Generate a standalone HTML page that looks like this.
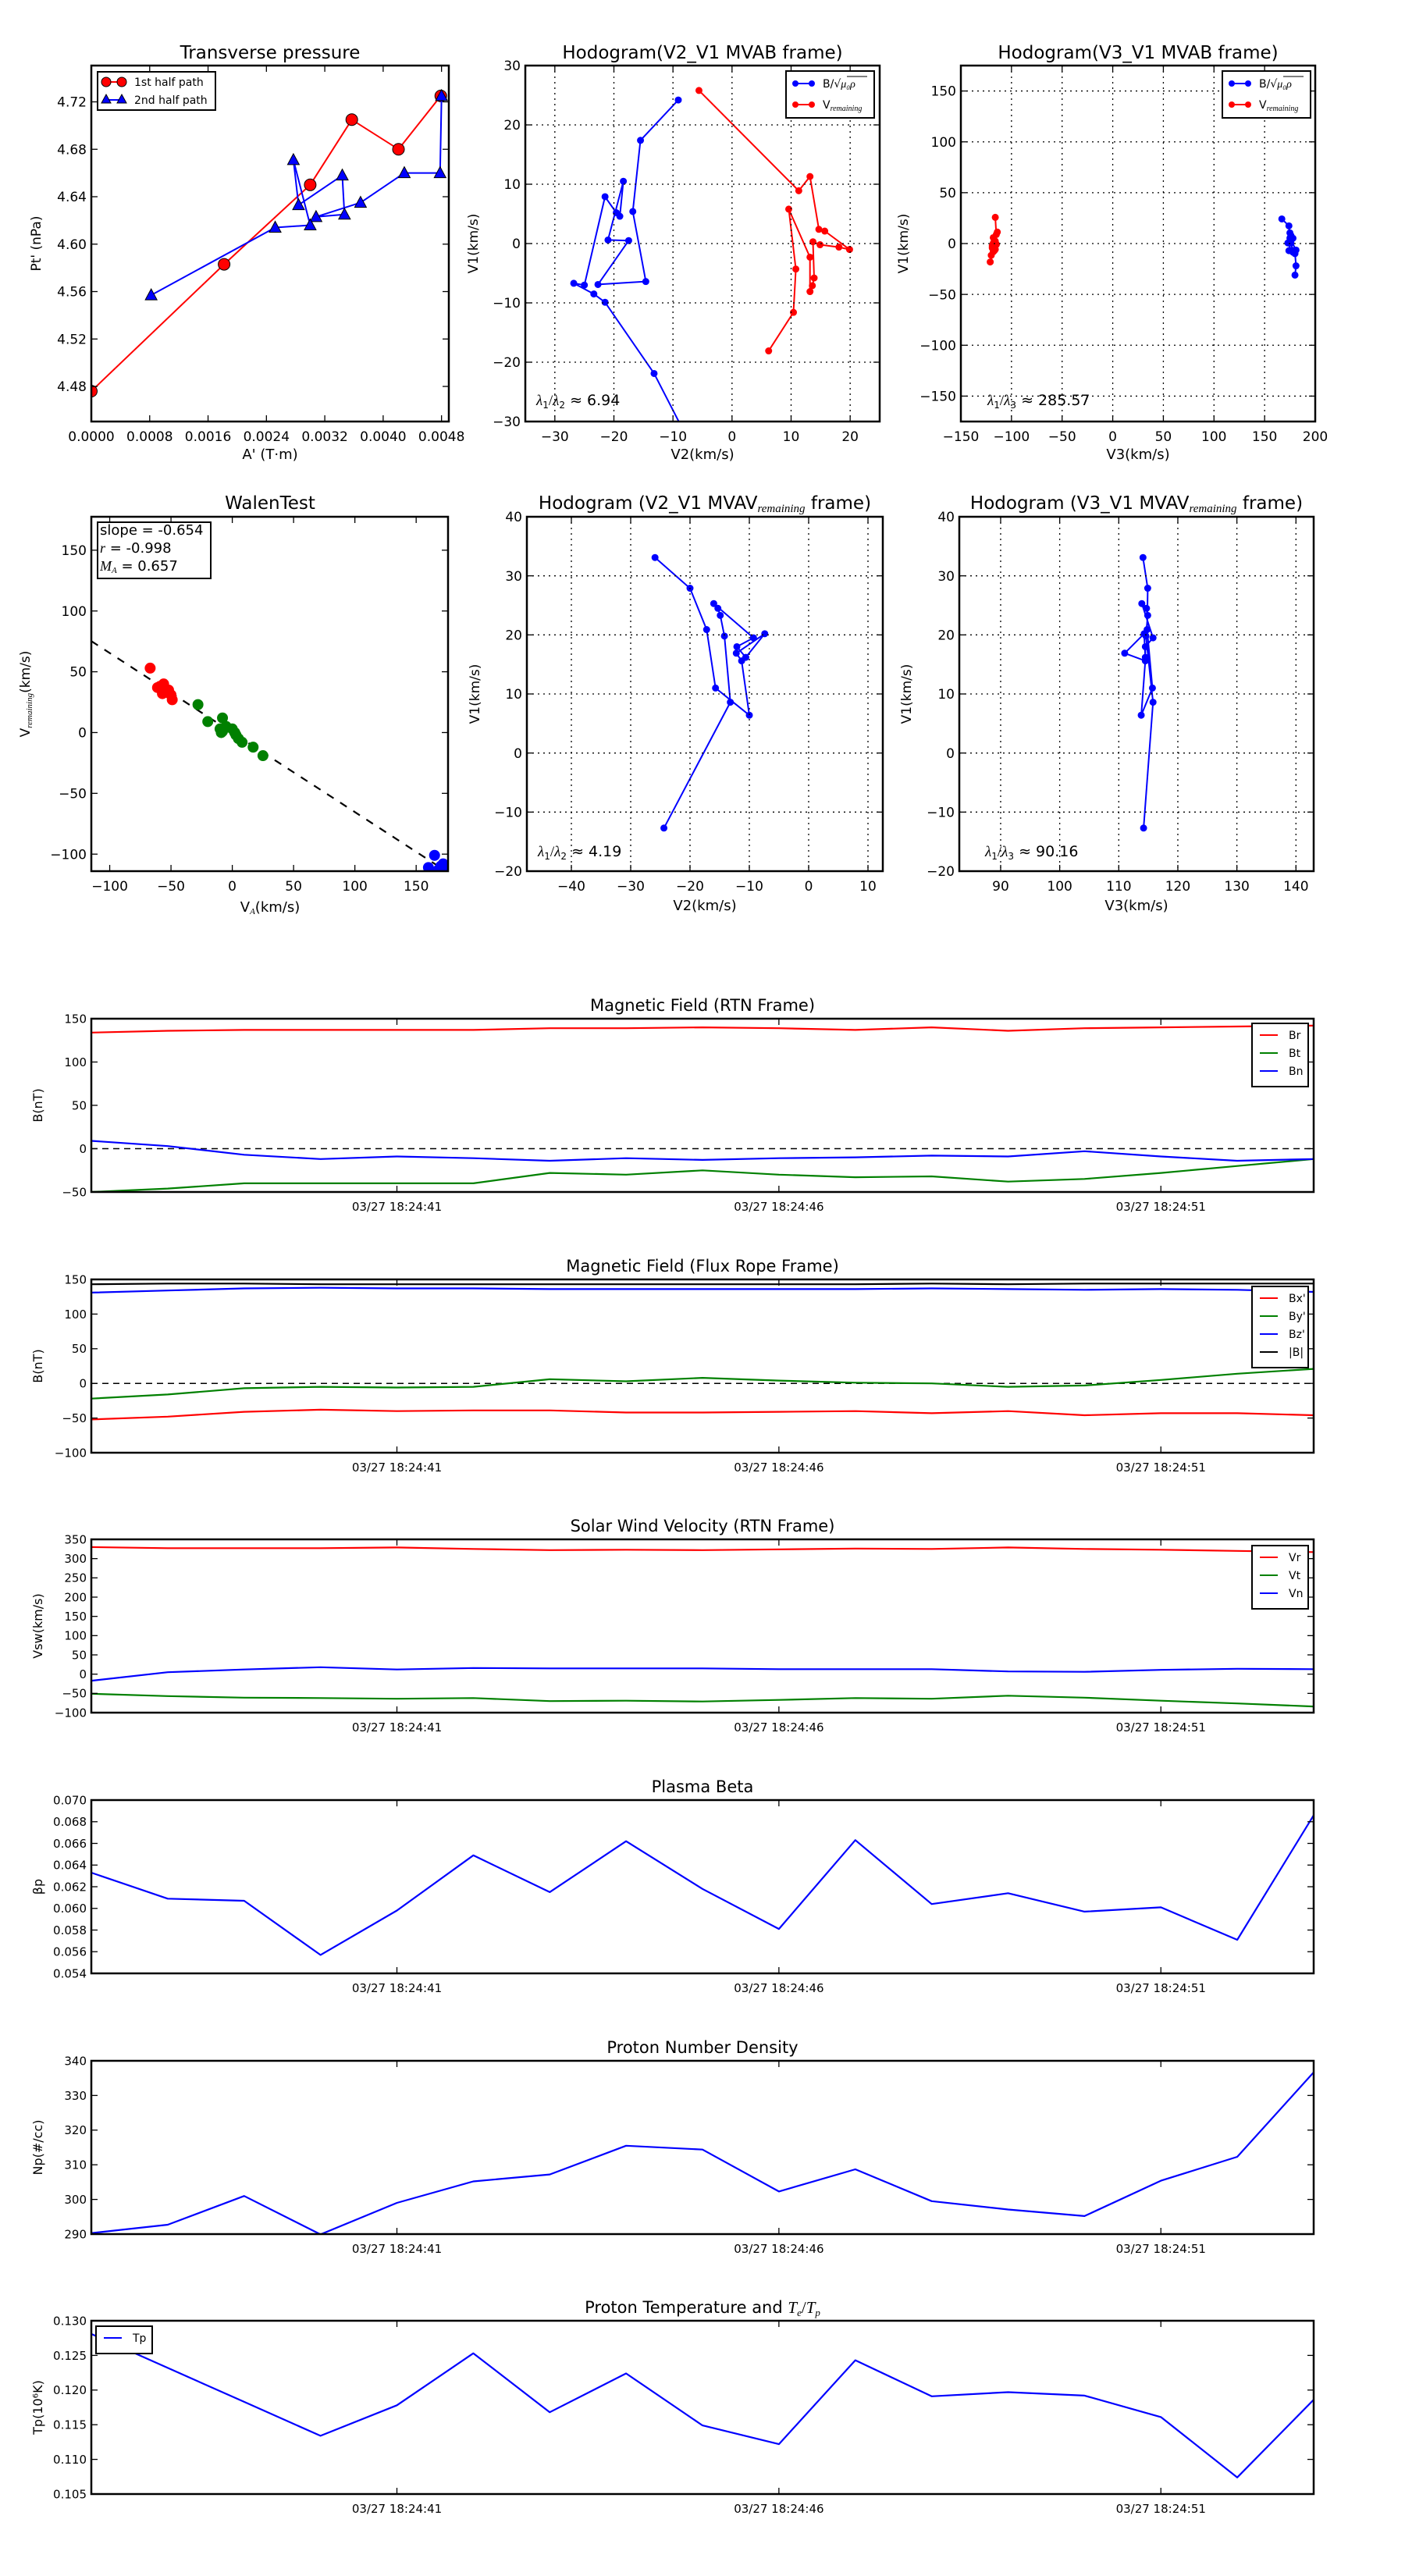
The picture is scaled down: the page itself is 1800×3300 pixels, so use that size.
<!DOCTYPE html>
<html><head><meta charset="utf-8"><title>Flux rope analysis</title>
<style>
html,body{margin:0;padding:0;background:#fff;}
svg{display:block;font-family:"DejaVu Sans","Liberation Sans",sans-serif;}
</style></head>
<body>
<svg id="c" width="1800" height="3300" viewBox="0 0 1800 3300" xmlns="http://www.w3.org/2000/svg">
<rect x="0" y="0" width="1800" height="3300" fill="#fff"/>
</svg>
<script>
// ---------- data ----------
const ptRedA = [0, 0.00182, 0.00300, 0.00357, 0.00421, 0.00479];
const ptRedP = [4.476, 4.583, 4.650, 4.705, 4.680, 4.725];
const ptBlueA = [0.00480, 0.00478, 0.00429, 0.00369, 0.00308, 0.00347, 0.00344, 0.00284, 0.00277, 0.00300, 0.00252, 0.00082];
const ptBlueP = [4.725, 4.660, 4.660, 4.635, 4.623, 4.625, 4.658, 4.633, 4.671, 4.616, 4.614, 4.557];

const hbV2 = [-9.1,-15.5,-16.8,-14.6,-22.7,-17.5,-21,-18.4,-19,-19.6,-21.5,-25,-26.8,-23.4,-21.5,-13.2,-8.5];
const hbV1 = [24.2,17.4,5.4,-6.4,-6.9,0.5,0.6,10.5,4.6,5.2,7.9,-7,-6.7,-8.5,-9.9,-21.9,-31];
const hbV3 = [167,174,175,181,178,176,173,175,177,178,176,174,176,178,180,181,180];
const hrV2 = [-5.6,11.3,13.2,14.7,15.7,19.9,18.1,14.9,13.7,13.9,13.6,13.2,13.2,9.6,10.8,10.4,6.2];
const hrV1 = [25.8,8.9,11.3,2.4,2.1,-1,-0.6,-0.2,0.3,-5.8,-7.1,-8.1,-2.3,5.8,-4.3,-11.6,-18.1];
const hrV3 = [-116,-115,-114,-116,-117,-115,-115,-117,-118,-116,-117,-118,-119,-118,-119,-120,-121];

const walRedX = [-67,-61,-59,-56,-55,-52,-50,-49,-57];
const walRedY = [53,37,38,40,33,35,31,27,32];
const walGreenX = [-28,-20,-8,-10,-9,-5,0,3,5,8,17,25,-8,2];
const walGreenY = [23,9,12,3,0,5,3,-2,-5,-8,-12,-19,1,0];
const walBlueX = [165,160,170,172,174,168];
const walBlueY = [-101,-111,-110,-108,-110,-113];
const walSlope = -0.654;

const mvV1 = [33.1,27.9,20.9,11.0,6.4,15.6,16.9,20.2,16.2,18.0,19.5,25.3,24.5,23.3,19.8,8.6,-12.7];
const mvV2 = [-25.9,-20,-17.2,-15.7,-10,-11.3,-12.2,-7.4,-10.6,-12.1,-9.3,-16,-15.3,-14.9,-14.2,-13.2,-24.4];
const mvV3 = [114.1,114.9,114.8,115.7,113.8,114.5,111,114.3,114.5,114.5,115.8,113.9,114.7,114.9,114.6,115.8,114.2];

const timeTicks = ["03/27 18:24:41","03/27 18:24:46","03/27 18:24:51"];
const timeTickIdx = [4, 9, 14];
const Br = [134,136,137,137,137,137,139,139,140,139,137,140,136,139,140,141,142];
const Bt = [-50,-46,-40,-40,-40,-40,-28,-30,-25,-30,-33,-32,-38,-35,-28,-20,-12];
const Bn = [9,3,-7,-12,-9,-11,-14,-11,-13,-11,-10,-8,-9,-3,-9,-14,-12];
const Bx = [-52,-48,-41,-38,-40,-39,-39,-42,-42,-41,-40,-43,-40,-46,-43,-43,-46];
const By = [-22,-16,-7,-5,-6,-5,6,3,8,4,1,0,-5,-3,5,14,21];
const Bz = [131,134,137,138,137,137,136,136,136,136,136,137,136,135,136,135,132];
const Bmag = [143,144,144,143,143,143,143,143,143,143,143,144,143,144,144,144,144];
const Vr = [330,327,327,327,329,325,322,323,322,324,326,325,329,325,323,320,317];
const Vt = [-51,-57,-61,-62,-64,-62,-70,-69,-71,-67,-62,-64,-56,-61,-69,-76,-84];
const Vn = [-17,5,12,18,12,16,15,15,15,13,13,13,7,6,11,14,13];
const beta = [0.0633,0.0609,0.0607,0.0557,0.0598,0.0649,0.0615,0.0662,0.0618,0.0581,0.0663,0.0604,0.0614,0.0597,0.0601,0.0571,0.0686];
const Np = [290.3,292.7,301,289.9,299,305.2,307.2,315.5,314.4,302.3,308.7,299.5,297.1,295.2,305.4,312.3,336.7];
const Tp = [0.1281,0.1232,0.1183,0.1134,0.1178,0.1253,0.1168,0.1224,0.1149,0.1122,0.1243,0.1191,0.1197,0.1192,0.1161,0.1074,0.1186];

// ---------- helpers ----------
const NS = "http://www.w3.org/2000/svg";
const svg = document.getElementById('c');
let clipN = 0;
function mk(tag, attrs, parent){
  const e = document.createElementNS(NS, tag);
  for (const k in attrs) e.setAttribute(k, attrs[k]);
  (parent || svg).appendChild(e);
  return e;
}
function txt(x, y, s, size, anchor, parent, extra){
  const t = mk('text', Object.assign({x:x, y:y, 'font-size':size, 'text-anchor':anchor||'middle', fill:'#000'}, extra||{}), parent);
  t.textContent = s;
  return t;
}
function axes(name, x0, y0, w, h, xmin, xmax, ymin, ymax){
  const g = mk('g', {});
  
  
  const sx = v => x0 + (v - xmin) / (xmax - xmin) * w;
  const sy = v => y0 + h - (v - ymin) / (ymax - ymin) * h;
  const id = 'clip' + (clipN++);
  const cp = mk('clipPath', {id:id}, g);
  mk('rect', {x:x0, y:y0, width:w, height:h}, cp);
  const plot = mk('g', {'clip-path':'url(#' + id + ')'}, g);
  return {g, plot, sx, sy, x0, y0, w, h};
}
function frame(a){
  const f = mk('rect', {x:a.x0, y:a.y0, width:a.w, height:a.h, fill:'none', stroke:'#000', 'stroke-width':2.5}, a.g);
  
  
}
function xticks(a, vals, labels, size, grid){
  vals.forEach((v, i) => {
    const x = a.sx(v);
    if (grid) mk('line', {x1:x, x2:x, y1:a.y0, y2:a.y0 + a.h, stroke:'#000', 'stroke-width':1.3, 'stroke-dasharray':'2,5'}, a.g);
    mk('line', {x1:x, x2:x, y1:a.y0 + a.h, y2:a.y0 + a.h - 8, stroke:'#000', 'stroke-width':1.3}, a.g);
    mk('line', {x1:x, x2:x, y1:a.y0, y2:a.y0 + 8, stroke:'#000', 'stroke-width':1.3}, a.g);
    const t = txt(x, a.y0 + a.h + size + 8, labels[i], size, 'middle', a.g);
    
    
  });
}
function yticks(a, vals, labels, size, grid){
  vals.forEach((v, i) => {
    const y = a.sy(v);
    if (grid) mk('line', {x1:a.x0, x2:a.x0 + a.w, y1:y, y2:y, stroke:'#000', 'stroke-width':1.3, 'stroke-dasharray':'2,5'}, a.g);
    mk('line', {x1:a.x0, x2:a.x0 + 8, y1:y, y2:y, stroke:'#000', 'stroke-width':1.3}, a.g);
    mk('line', {x1:a.x0 + a.w, x2:a.x0 + a.w - 8, y1:y, y2:y, stroke:'#000', 'stroke-width':1.3}, a.g);
    const t = txt(a.x0 - 6, y + size * 0.36, labels[i], size, 'end', a.g);
    
    
  });
}
function range(a, b, s){ const r = []; for (let v = a; v <= b + s * 1e-6; v += s) r.push(Math.round(v / s) * s); return r; }
function polyline(a, xs, ys, color, width){
  const pts = xs.map((x, i) => a.sx(x).toFixed(1) + ',' + a.sy(ys[i]).toFixed(1)).join(' ');
  return mk('polyline', {points:pts, fill:'none', stroke:color, 'stroke-width':width || 2, 'stroke-linejoin':'round'}, a.plot);
}
function dots(a, xs, ys, color, r, stroke){
  const g = mk('g', {}, a.plot);
  xs.forEach((x, i) => {
    const c = mk('circle', {cx:a.sx(x), cy:a.sy(ys[i]), r:r, fill:color, stroke:stroke || color, 'stroke-width':1}, g);
    
    
  });
  return g;
}
function title(x, y, s, size){
  const t = txt(x, y, s, size || 23, 'middle');
  
  
  return t;
}
function ylabel(x, y, s, size){
  const t = txt(x, y, s, size || 17, 'middle', svg, {transform:'rotate(-90 ' + x + ' ' + y + ')'});
  
  
  return t;
}
function xlabel(x, y, s, size){
  const t = txt(x, y, s, size || 18, 'middle');
  
  
  return t;
}

// ---------- 1. Transverse pressure ----------
{
  const a = axes('transverse-pressure-chart', 117, 84, 458, 456, 0, 0.0049, 4.4504, 4.7506);
  title(346, 75, 'Transverse pressure');
  xticks(a, range(0, 0.0048, 0.0008), range(0, 0.0048, 0.0008).map(v => v.toFixed(4)), 17);
  yticks(a, range(4.48, 4.72, 0.04), range(4.48, 4.72, 0.04).map(v => v.toFixed(2)), 17);
  const rl = polyline(a, ptRedA, ptRedP, '#f00', 2);
  
  
  dots(a, ptRedA, ptRedP, '#f00', 7.5, '#000');
  const bl = polyline(a, ptBlueA, ptBlueP, '#00f', 2);
  
  
  ptBlueA.forEach((x, i) => {
    const cx = a.sx(x), cy = a.sy(ptBlueP[i]);
    const tri = mk('polygon', {points:(cx) + ',' + (cy - 8) + ' ' + (cx - 7.5) + ',' + (cy + 6) + ' ' + (cx + 7.5) + ',' + (cy + 6), fill:'#00f', stroke:'#000', 'stroke-width':1}, a.plot);
    
    
  });
  frame(a);
  const lg = mk('g', {});
  
  
  mk('rect', {x:125, y:92, width:151, height:49, fill:'#fff', stroke:'#000', 'stroke-width':2}, lg);
  mk('line', {x1:136, x2:156, y1:105, y2:105, stroke:'#f00', 'stroke-width':2}, lg);
  mk('circle', {cx:136, cy:105, r:6, fill:'#f00', stroke:'#000'}, lg);
  mk('circle', {cx:156, cy:105, r:6, fill:'#f00', stroke:'#000'}, lg);
  txt(172, 110, '1st half path', 14, 'start', lg);
  mk('line', {x1:136, x2:156, y1:128, y2:128, stroke:'#00f', 'stroke-width':2}, lg);
  mk('polygon', {points:'136,121 130,132 142,132', fill:'#00f', stroke:'#000'}, lg);
  mk('polygon', {points:'156,121 150,132 162,132', fill:'#00f', stroke:'#000'}, lg);
  txt(172, 133, '2nd half path', 14, 'start', lg);
  ylabel(52, 312, "Pt' (nPa)");
  xlabel(346, 588, "A' (T\u00b7m)");
}

// hodogram legend helper
function hodoLegend(x, y){
  const lg = mk('g', {});
  
  
  mk('rect', {x:x, y:y, width:113, height:60, fill:'#fff', stroke:'#000', 'stroke-width':2}, lg);
  mk('line', {x1:x + 12, x2:x + 33, y1:y + 16, y2:y + 16, stroke:'#00f', 'stroke-width':2}, lg);
  mk('circle', {cx:x + 12, cy:y + 16, r:4, fill:'#00f'}, lg);
  mk('circle', {cx:x + 33, cy:y + 16, r:4, fill:'#00f'}, lg);
  const t1 = txt(x + 47, y + 21, 'B/\u221a', 14, 'start', lg);
  const s1 = mk('tspan', {'font-style':'italic', 'font-family':'Liberation Serif, serif'}, t1);
  s1.textContent = '\u03bc\u2080\u03c1';
  mk('line', {x1:x + 78, x2:x + 104, y1:y + 7, y2:y + 7, stroke:'#000', 'stroke-width':1}, lg);
  mk('line', {x1:x + 12, x2:x + 33, y1:y + 43, y2:y + 43, stroke:'#f00', 'stroke-width':2}, lg);
  mk('circle', {cx:x + 12, cy:y + 43, r:4, fill:'#f00'}, lg);
  mk('circle', {cx:x + 33, cy:y + 43, r:4, fill:'#f00'}, lg);
  const t2 = txt(x + 47, y + 48, 'V', 14, 'start', lg);
  const s2 = mk('tspan', {'font-style':'italic', 'font-size':10, dy:3, 'font-family':'Liberation Serif, serif'}, t2);
  s2.textContent = 'remaining';
}
function lambdaText(x, y, a, b, val){
  const t = txt(x, y, '', 19, 'start');
  
  
  const p1 = mk('tspan', {'font-style':'italic', 'font-family':'Liberation Serif, serif'}, t); p1.textContent = '\u03bb';
  const p2 = mk('tspan', {'font-size':12, dy:4}, t); p2.textContent = a;
  const p3 = mk('tspan', {dy:-4, 'font-family':'Liberation Serif, serif'}, t); p3.textContent = '/';
  const p4 = mk('tspan', {'font-style':'italic', 'font-family':'Liberation Serif, serif'}, t); p4.textContent = '\u03bb';
  const p5 = mk('tspan', {'font-size':12, dy:4}, t); p5.textContent = b;
  const p6 = mk('tspan', {dy:-4}, t); p6.textContent = ' \u2248 ' + val;
}

// ---------- 2. Hodogram V2_V1 MVAB ----------
{
  const a = axes('hodogram-v2-v1-mvab', 673, 84, 454, 456, -35, 25, -30, 30);
  title(900, 75, 'Hodogram(V2_V1 MVAB frame)');
  xticks(a, range(-30, 20, 10), range(-30, 20, 10).map(v => v < 0 ? '\u2212' + (-v) : '' + v), 17, true);
  yticks(a, range(-30, 30, 10), range(-30, 30, 10).map(v => v < 0 ? '\u2212' + (-v) : '' + v), 17, true);
  const b = polyline(a, hbV2, hbV1, '#00f', 2);  
  dots(a, hbV2, hbV1, '#00f', 4);
  const r = polyline(a, hrV2, hrV1, '#f00', 2);  
  dots(a, hrV2, hrV1, '#f00', 4);
  frame(a);
  hodoLegend(1007, 91);
  lambdaText(687, 519, '1', '2', '6.94');
  ylabel(612, 312, 'V1(km/s)');
  xlabel(900, 588, 'V2(km/s)');
}
// ---------- 3. Hodogram V3_V1 MVAB ----------
{
  const a = axes('hodogram-v3-v1-mvab', 1231, 84, 454, 456, -150, 200, -175, 175);
  title(1458, 75, 'Hodogram(V3_V1 MVAB frame)');
  xticks(a, range(-150, 200, 50), range(-150, 200, 50).map(v => v < 0 ? '\u2212' + (-v) : '' + v), 17, true);
  yticks(a, range(-150, 150, 50), range(-150, 150, 50).map(v => v < 0 ? '\u2212' + (-v) : '' + v), 17, true);
  const b = polyline(a, hbV3, hbV1, '#00f', 2);  
  dots(a, hbV3, hbV1, '#00f', 4);
  const r = polyline(a, hrV3, hrV1, '#f00', 2);  
  dots(a, hrV3, hrV1, '#f00', 4);
  frame(a);
  hodoLegend(1566, 91);
  lambdaText(1265, 519, '1', '3', '285.57');
  ylabel(1163, 312, 'V1(km/s)');
  xlabel(1458, 588, 'V3(km/s)');
}
// ---------- 4. Walen test ----------
{
  const a = axes('walen-test-chart', 117, 662, 457, 454, -115, 176, -114, 177.5);
  title(346, 652, 'WalenTest');
  xticks(a, range(-100, 150, 50), range(-100, 150, 50).map(v => v < 0 ? '\u2212' + (-v) : '' + v), 17);
  yticks(a, range(-100, 150, 50), range(-100, 150, 50).map(v => v < 0 ? '\u2212' + (-v) : '' + v), 17);
  const fx = [-115, 176];
  const fl = polyline(a, fx, fx.map(v => walSlope * v), '#000', 2.2);
  fl.setAttribute('stroke-dasharray', '10,10');
  
  
  dots(a, walRedX, walRedY, '#f00', 6.5);
  dots(a, walGreenX, walGreenY, '#008000', 6.5);
  dots(a, walBlueX, walBlueY, '#00f', 6.5);
  frame(a);
  const lg = mk('g', {});
  
  
  mk('rect', {x:125, y:669, width:145, height:72, fill:'#fff', stroke:'#000', 'stroke-width':2}, lg);
  txt(128, 685, 'slope = -0.654', 18, 'start', lg);
  const t2 = txt(128, 708, '', 18, 'start', lg);
  const a1 = mk('tspan', {'font-style':'italic', 'font-family':'Liberation Serif, serif'}, t2); a1.textContent = 'r';
  const a2 = mk('tspan', {}, t2); a2.textContent = ' = -0.998';
  const t3 = txt(128, 731, '', 18, 'start', lg);
  const b1 = mk('tspan', {'font-style':'italic', 'font-family':'Liberation Serif, serif'}, t3); b1.textContent = 'M';
  const b2 = mk('tspan', {'font-style':'italic', 'font-size':11, dy:3, 'font-family':'Liberation Serif, serif'}, t3); b2.textContent = 'A';
  const b3 = mk('tspan', {dy:-3}, t3); b3.textContent = ' = 0.657';
  const yl = txt(38, 889, '', 17, 'middle', svg, {transform:'rotate(-90 38 889)'});
  
  
  const y1 = mk('tspan', {}, yl); y1.textContent = 'V';
  const y2 = mk('tspan', {'font-style':'italic', 'font-size':11, dy:3, 'font-family':'Liberation Serif, serif'}, yl); y2.textContent = 'remaining';
  const y3 = mk('tspan', {dy:-3}, yl); y3.textContent = '(km/s)';
  const xl = txt(346, 1168, '', 18, 'middle');
  
  
  const x1 = mk('tspan', {}, xl); x1.textContent = 'V';
  const x2 = mk('tspan', {'font-style':'italic', 'font-size':11, dy:3, 'font-family':'Liberation Serif, serif'}, xl); x2.textContent = 'A';
  const x3 = mk('tspan', {dy:-3}, xl); x3.textContent = '(km/s)';
}
function mvavTitle(x, y, s){
  const t = txt(x, y, '', 23, 'middle');
  
  
  const p1 = mk('tspan', {}, t); p1.textContent = s;
  const p2 = mk('tspan', {'font-style':'italic', 'font-size':15, dy:4, 'font-family':'Liberation Serif, serif'}, t); p2.textContent = 'remaining';
  const p3 = mk('tspan', {dy:-4}, t); p3.textContent = ' frame)';
}
// ---------- 5. Hodogram V2_V1 MVAV ----------
{
  const a = axes('hodogram-v2-v1-mvav', 675, 662, 456, 454, -47.5, 12.5, -20, 40);
  mvavTitle(903, 652, 'Hodogram (V2_V1 MVAV');
  xticks(a, range(-40, 10, 10), range(-40, 10, 10).map(v => v < 0 ? '\u2212' + (-v) : '' + v), 17, true);
  yticks(a, range(-20, 40, 10), range(-20, 40, 10).map(v => v < 0 ? '\u2212' + (-v) : '' + v), 17, true);
  const b = polyline(a, mvV2, mvV1, '#00f', 2);  
  dots(a, mvV2, mvV1, '#00f', 4);
  frame(a);
  lambdaText(689, 1097, '1', '2', '4.19');
  ylabel(614, 889, 'V1(km/s)');
  xlabel(903, 1166, 'V2(km/s)');
}
// ---------- 6. Hodogram V3_V1 MVAV ----------
{
  const a = axes('hodogram-v3-v1-mvav', 1229, 662, 454, 454, 83, 143, -20, 40);
  mvavTitle(1456, 652, 'Hodogram (V3_V1 MVAV');
  xticks(a, range(90, 140, 10), range(90, 140, 10).map(v => '' + v), 17, true);
  yticks(a, range(-20, 40, 10), range(-20, 40, 10).map(v => v < 0 ? '\u2212' + (-v) : '' + v), 17, true);
  const b = polyline(a, mvV3, mvV1, '#00f', 2);  
  dots(a, mvV3, mvV1, '#00f', 4);
  frame(a);
  lambdaText(1262, 1097, '1', '3', '90.16');
  ylabel(1167, 889, 'V1(km/s)');
  xlabel(1456, 1166, 'V3(km/s)');
}

// ---------- time series ----------
const TS_X = 117, TS_W = 1566, TS_H = 222;
function tsChart(name, top, ttl, ymin, ymax, yvals, ylabs, series, yl, legend, zero){
  const a = axes(name, TS_X, top, TS_W, TS_H, 0, 16, ymin, ymax);
  if (typeof ttl === 'string') title(900, top - 10, ttl, 21);
  timeTickIdx.forEach((ix, i) => {
    const x = a.sx(ix);
    mk('line', {x1:x, x2:x, y1:top + TS_H, y2:top + TS_H - 8, stroke:'#000', 'stroke-width':1.3}, a.g);
    mk('line', {x1:x, x2:x, y1:top, y2:top + 8, stroke:'#000', 'stroke-width':1.3}, a.g);
    const t = txt(x, top + TS_H + 24, timeTicks[i], 15, 'middle', a.g);
    
    
  });
  yticks(a, yvals, ylabs, 15);
  if (zero) {
    const z = mk('line', {x1:a.x0, x2:a.x0 + a.w, y1:a.sy(0), y2:a.sy(0), stroke:'#000', 'stroke-width':1.5, 'stroke-dasharray':'8,6'}, a.plot);
    
    
  }
  const idx = series[0].data.map((_, i) => i);
  series.forEach(s => {
    const l = polyline(a, idx, s.data, s.color, 2.2);
    
    
  });
  frame(a);
  if (legend) {
    const lg = mk('g', {});
    
    
    const n = legend.items.length;
    mk('rect', {x:legend.x, y:legend.y, width:legend.w, height:n * 23 + 12, fill:'#fff', stroke:'#000', 'stroke-width':2}, lg);
    legend.items.forEach((it, i) => {
      const yy = legend.y + 15 + i * 23;
      mk('line', {x1:legend.x + 10, x2:legend.x + 33, y1:yy, y2:yy, stroke:it.color, 'stroke-width':2}, lg);
      txt(legend.x + 47, yy + 5, it.label, 14, 'start', lg);
    });
  }
  const yt = ylabel(54, top + TS_H / 2, '', 16);
  yt.textContent = yl;
  return a;
}
function signed(v){ return v < 0 ? '\u2212' + (-v) : '' + v; }

tsChart('magnetic-field-rtn-chart', 1305, 'Magnetic Field (RTN Frame)', -50, 150, range(-50, 150, 50), range(-50, 150, 50).map(signed),
  [{name:'br', data:Br, color:'#f00'}, {name:'bt', data:Bt, color:'#008000'}, {name:'bn', data:Bn, color:'#00f'}],
  'B(nT)', {x:1604, y:1311, w:72, items:[{label:'Br', color:'#f00'}, {label:'Bt', color:'#008000'}, {label:'Bn', color:'#00f'}]}, true);

tsChart('magnetic-field-flux-rope-chart', 1639, 'Magnetic Field (Flux Rope Frame)', -100, 150, range(-100, 150, 50), range(-100, 150, 50).map(signed),
  [{name:'bx', data:Bx, color:'#f00'}, {name:'by', data:By, color:'#008000'}, {name:'bz', data:Bz, color:'#00f'}, {name:'bmag', data:Bmag, color:'#000'}],
  'B(nT)', {x:1604, y:1648, w:72, items:[{label:"Bx'", color:'#f00'}, {label:"By'", color:'#008000'}, {label:"Bz'", color:'#00f'}, {label:'|B|', color:'#000'}]}, true);

tsChart('solar-wind-velocity-chart', 1972, 'Solar Wind Velocity (RTN Frame)', -100, 350, range(-100, 350, 50), range(-100, 350, 50).map(signed),
  [{name:'vr', data:Vr, color:'#f00'}, {name:'vt', data:Vt, color:'#008000'}, {name:'vn', data:Vn, color:'#00f'}],
  'Vsw(km/s)', {x:1604, y:1980, w:72, items:[{label:'Vr', color:'#f00'}, {label:'Vt', color:'#008000'}, {label:'Vn', color:'#00f'}]}, false);

tsChart('plasma-beta-chart', 2306, 'Plasma Beta', 0.054, 0.070, range(0.054, 0.070, 0.002), range(0.054, 0.070, 0.002).map(v => v.toFixed(3)),
  [{name:'beta', data:beta, color:'#00f'}], '\u03b2p', null, false);

tsChart('proton-density-chart', 2640, 'Proton Number Density', 290, 340, range(290, 340, 10), range(290, 340, 10).map(v => '' + v),
  [{name:'np', data:Np, color:'#00f'}], 'Np(#/cc)', null, false);

{
  tsChart('proton-temperature-chart', 2973, null, 0.105, 0.130, range(0.105, 0.130, 0.005), range(0.105, 0.130, 0.005).map(v => v.toFixed(3)),
    [{name:'tp', data:Tp, color:'#00f'}], 'Tp(10\u2076K)', {x:123, y:2980, w:72, items:[{label:'Tp', color:'#00f'}]}, false);
  const t = txt(900, 2963, 'Proton Temperature and ', 21, 'middle');
  
  
  const p1 = mk('tspan', {'font-style':'italic', 'font-family':'Liberation Serif, serif'}, t); p1.textContent = 'T';
  const p2 = mk('tspan', {'font-style':'italic', 'font-size':13, dy:4, 'font-family':'Liberation Serif, serif'}, t); p2.textContent = 'e';
  const p3 = mk('tspan', {dy:-4, 'font-family':'Liberation Serif, serif'}, t); p3.textContent = '/';
  const p4 = mk('tspan', {'font-style':'italic', 'font-family':'Liberation Serif, serif'}, t); p4.textContent = 'T';
  const p5 = mk('tspan', {'font-style':'italic', 'font-size':13, dy:4, 'font-family':'Liberation Serif, serif'}, t); p5.textContent = 'p';
}
</script>
</body></html>
